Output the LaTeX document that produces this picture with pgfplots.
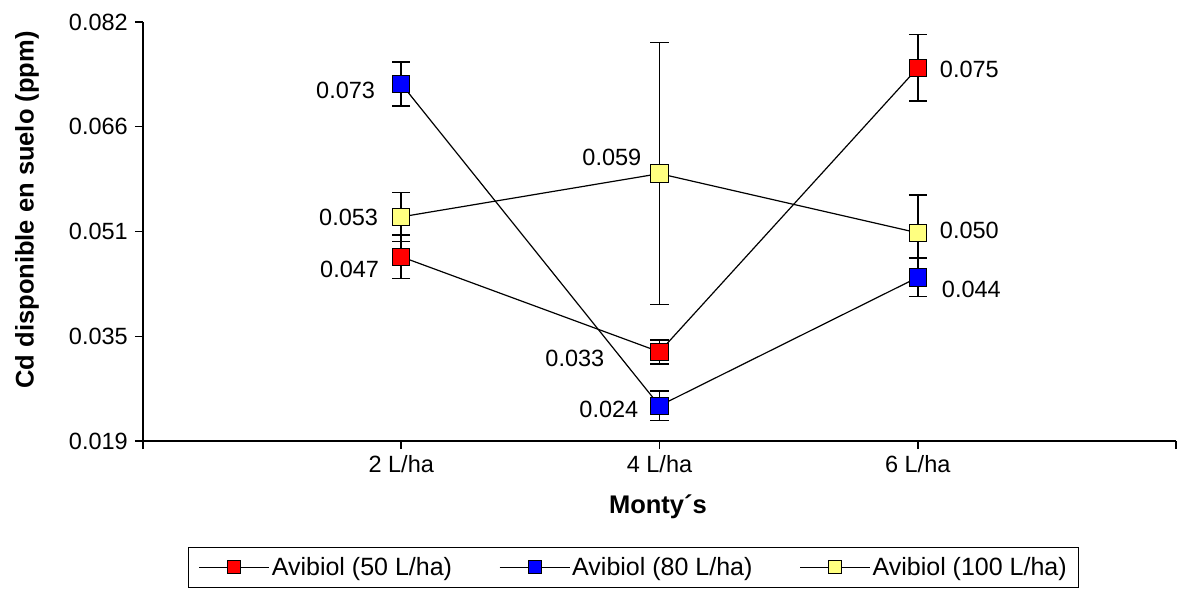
\documentclass[border=0pt]{standalone}
\usepackage{fontspec}
\setmainfont{Liberation Sans}
\usepackage{pgfplots}
\pgfplotsset{compat=1.18}
\usepackage{pgfplotstable}

\definecolor{cred}{RGB}{255,0,0}
\definecolor{cblue}{RGB}{0,0,255}
\definecolor{cyel}{RGB}{255,255,128}

\pgfplotstableread{
x y err
1 0.0467 0.0033
2 0.0324 0.0018
3 0.0751 0.0050
}\redtab
\pgfplotstableread{
x y err
1 0.0727 0.0033
2 0.0243 0.0022
3 0.0436 0.0029
}\bluetab
\pgfplotstableread{
x y err
1 0.0527 0.0037
2 0.0592 0.0197
3 0.0503 0.0057
}\yeltab

\newcommand{\nfont}{\fontsize{23.5bp}{27bp}\selectfont}
\newcommand{\lfont}{\fontsize{25bp}{29bp}\selectfont}
\newcommand{\bfont}{\fontsize{25.5bp}{29bp}\selectfont\bfseries}

\pgfplotsset{
  myerr/.style={
    error bars/y dir=both,
    error bars/y explicit,
    error bars/error bar style={line width=1.5bp, black},
    error bars/error mark options={rotate=90, mark size=9bp, line width=1.5bp, black},
  },
}
\tikzset{lbl/.style={inner sep=0pt, font=\nfont, text=black}}

\begin{document}
\begin{tikzpicture}
\begin{axis}[
  scale only axis,
  width=1033bp, height=419bp,
  xmin=0, xmax=4, ymin=0.019, ymax=0.082,
  axis lines=left,
  axis line style={-, line width=1.5bp, black},
  clip=false,
  scaled y ticks=false,
  xtick={0,1,2,3,4},
  xticklabels={,2 L/ha,4 L/ha,6 L/ha,},
  ytick={0.019,0.03475,0.0505,0.06625,0.082},
  yticklabels={0.019,0.035,0.051,0.066,0.082},
  tick align=outside,
  major tick length=8bp,
  tick style={line width=1.5bp, black},
  ticklabel style={font=\nfont, text=black},
  yticklabel style={inner sep=0pt, xshift=-7bp},
  xticklabel style={inner sep=0pt, yshift=-6bp},
  xlabel={Monty´s},
  ylabel={Cd disponible en suelo (ppm)},
  every axis x label/.style={at={(axis description cs:0.4985,-0.1563)}, anchor=center, font=\bfont},
  every axis y label/.style={at={(axis description cs:-0.1123,0.5514)}, anchor=center, rotate=90, font=\bfont},
  legend columns=3,
  legend style={at={(0.0436,-0.253)}, anchor=north west, draw=black, line width=1.2bp,
    font=\lfont, inner xsep=10bp, inner ysep=8bp,
    nodes={inner sep=2bp},
    /tikz/every even column/.append style={column sep=45bp}},
  legend image code/.code={\draw[mark repeat=2,mark phase=2,mark size=6.5bp] plot coordinates {(0bp,0bp) (35bp,0bp) (70bp,0bp)};},
  every axis plot/.append style={line width=1.2bp, black, mark=square*, mark size=8.75bp},
]
\addplot[myerr, mark options={fill=cred, draw=black, line width=1bp, solid}] table[x=x, y=y, y error=err] {\redtab};
\addlegendentry{Avibiol (50 L/ha)}
\addplot[myerr, mark options={fill=cblue, draw=black, line width=1bp, solid}] table[x=x, y=y, y error=err] {\bluetab};
\addlegendentry{Avibiol (80 L/ha)}
\addplot[myerr, mark options={fill=cyel, draw=black, line width=1bp, solid}] table[x=x, y=y, y error=err] {\yeltab};
\addlegendentry{Avibiol (100 L/ha)}
% value labels
\node[lbl, anchor=east, xshift=-22bp, yshift=-13bp] at (axis cs:1,0.0467) {0.047};
\node[lbl, anchor=east, xshift=-55bp, yshift=-7bp] at (axis cs:2,0.0324) {0.033};
\node[lbl, anchor=west, xshift=22bp, yshift=-2bp] at (axis cs:3,0.0751) {0.075};
\node[lbl, anchor=east, xshift=-26bp, yshift=-7bp] at (axis cs:1,0.0727) {0.073};
\node[lbl, anchor=east, xshift=-21bp, yshift=-4bp] at (axis cs:2,0.0243) {0.024};
\node[lbl, anchor=west, xshift=24bp, yshift=-12bp] at (axis cs:3,0.0436) {0.044};
\node[lbl, anchor=east, xshift=-23bp, yshift=-1bp] at (axis cs:1,0.0527) {0.053};
\node[lbl, anchor=east, xshift=-18bp, yshift=16bp] at (axis cs:2,0.0592) {0.059};
\node[lbl, anchor=west, xshift=22bp, yshift=2bp] at (axis cs:3,0.0503) {0.050};
\end{axis}
\pgfresetboundingbox
\useasboundingbox (-143bp,-151bp) rectangle (1035bp,441bp);
\end{tikzpicture}
\end{document}
